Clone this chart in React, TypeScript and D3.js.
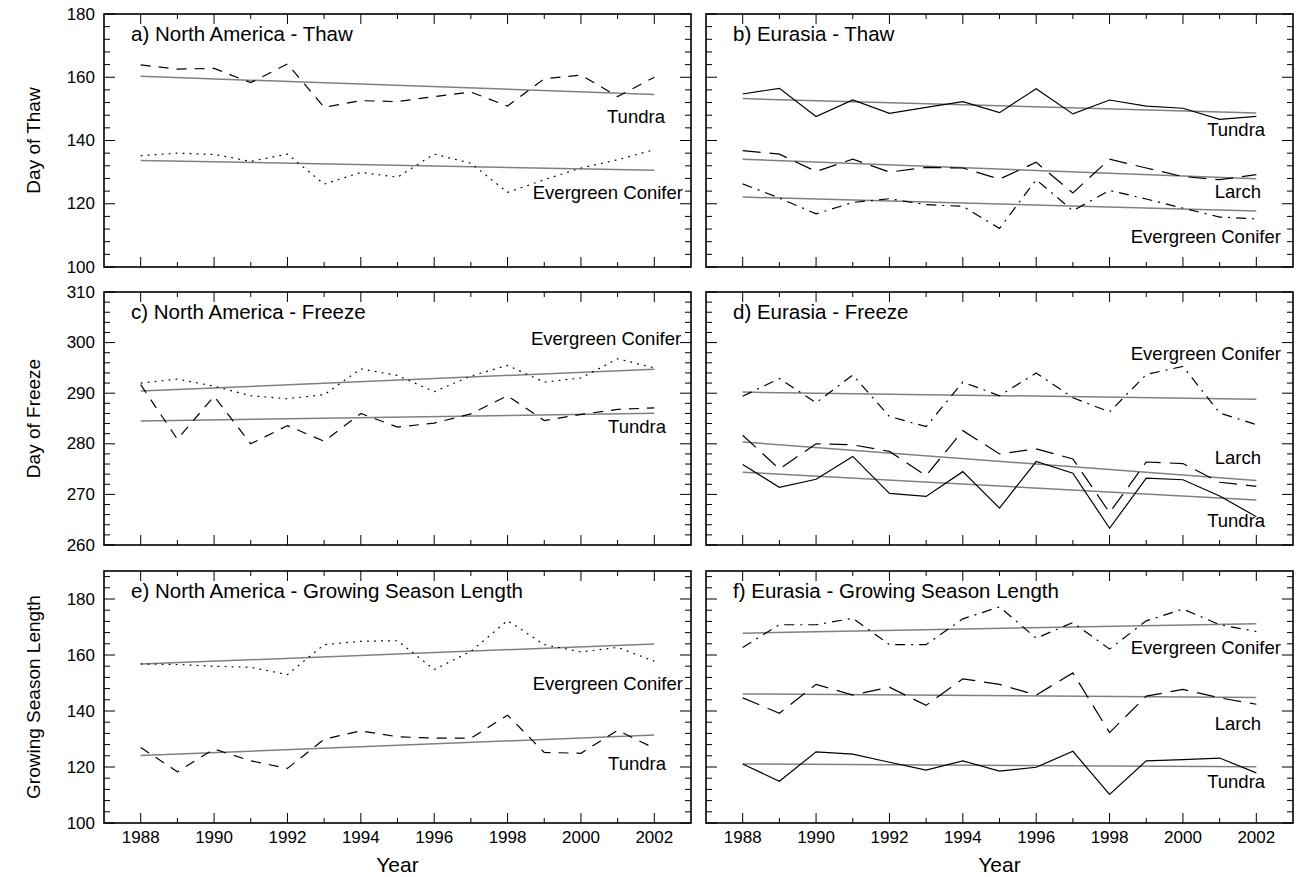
import * as d3 from "d3";

// years on the x axis
const years = [1988, 1989, 1990, 1991, 1992, 1993, 1994, 1995, 1996, 1997, 1998, 1999, 2000, 2001, 2002];
const yearTicks = [1988, 1990, 1992, 1994, 1996, 1998, 2000, 2002];

// tick labels per row
const thawTicks = [100, 120, 140, 160, 180];
const freezeTicks = [260, 270, 280, 290, 300, 310];
const gslTicks = [100, 120, 140, 160, 180];

// a) North America - Thaw
const naThawTundra = [163.9, 162.6, 162.8, 158.3, 164.2, 150.5, 152.6, 152.3, 153.9, 155.3, 150.9, 159.5, 160.7, 153.9, 160.0];
const naThawConifer = [135.2, 136.0, 135.6, 133.4, 135.7, 126.2, 129.9, 128.4, 135.7, 132.8, 123.6, 127.6, 131.3, 133.9, 137.1];

// b) Eurasia - Thaw
const euThawTundra = [154.7, 156.5, 147.6, 152.8, 148.6, 150.5, 152.3, 148.8, 156.4, 148.4, 152.8, 150.9, 150.2, 146.7, 147.6];
const euThawLarch = [136.8, 135.7, 130.2, 134.1, 130.0, 131.5, 131.3, 127.8, 133.1, 123.4, 134.1, 131.3, 128.6, 127.6, 129.2];
const euThawConifer = [126.3, 121.8, 116.8, 120.4, 121.6, 119.7, 119.2, 112.2, 127.6, 117.8, 124.2, 121.5, 118.6, 115.8, 115.2];

// c) North America - Freeze
const naFreezeConifer = [292.0, 292.8, 291.4, 289.5, 288.9, 289.7, 294.8, 293.5, 290.3, 293.4, 295.5, 292.2, 293.0, 296.8, 295.0];
const naFreezeTundra = [291.7, 280.9, 289.4, 280.0, 283.6, 280.5, 286.0, 283.3, 284.1, 285.9, 289.5, 284.6, 285.8, 286.8, 287.1];

// d) Eurasia - Freeze
const euFreezeConifer = [289.4, 292.9, 288.1, 293.6, 285.4, 283.4, 292.2, 289.5, 294.0, 289.1, 286.3, 293.7, 295.3, 286.1, 283.8];
const euFreezeLarch = [281.7, 275.0, 280.0, 279.8, 278.5, 273.7, 282.6, 278.0, 279.0, 277.0, 266.4, 276.4, 276.1, 272.4, 271.6];
const euFreezeTundra = [275.9, 271.4, 273.0, 277.5, 270.2, 269.6, 274.5, 267.3, 276.5, 274.2, 263.3, 273.2, 272.9, 269.7, 265.6];

// e) North America - Growing Season Length
const naGslConifer = [156.8, 156.6, 156.0, 155.6, 153.0, 163.7, 164.9, 165.1, 154.8, 161.3, 172.3, 163.7, 161.1, 162.7, 157.8];
const naGslTundra = [127.0, 118.3, 126.4, 122.2, 119.5, 129.9, 132.9, 130.8, 130.3, 130.3, 138.5, 125.2, 124.9, 133.1, 126.7];

// f) Eurasia - Growing Season Length
const euGslConifer = [162.7, 170.8, 170.8, 173.1, 163.7, 163.7, 172.9, 177.2, 166.0, 171.6, 162.1, 172.2, 176.4, 170.8, 168.4];
const euGslLarch = [144.7, 139.2, 149.5, 145.7, 148.5, 142.0, 151.5, 149.5, 145.7, 153.6, 132.3, 145.3, 147.7, 144.7, 142.4];
const euGslTundra = [121.1, 114.9, 125.4, 124.6, 121.7, 118.9, 122.2, 118.5, 119.9, 125.6, 110.2, 122.2, 122.6, 123.2, 117.9];

const FONT = "'Liberation Sans', Arial, Helvetica, sans-serif";

const styles: Record<string, string | undefined> = {
  solid: undefined,
  dashed: "10,8",
  long: "18,9",
  dotted: "1.8,5.2",
  dashdot: "10,6,2,6",
};

interface Series {
  name: string;
  values: number[];
  style: string;
  at: [number, number]; // label anchor (year, value), text ends here
}

interface Panel {
  title: string;
  col: number;
  row: number;
  series: Series[];
}

const cols = [
  { x0: 104, x1: 691 },
  { x0: 706, x1: 1293 },
];
const rows = [
  { y0: 14, y1: 267, domain: [100, 180], ticks: thawTicks, minor: 4, label: "Day of Thaw" },
  { y0: 292, y1: 545, domain: [260, 310], ticks: freezeTicks, minor: 2, label: "Day of Freeze" },
  { y0: 571, y1: 823, domain: [100, 190], ticks: gslTicks, minor: 4, label: "Growing Season Length" },
];

const panels: Panel[] = [
  {
    title: "a) North America - Thaw", col: 0, row: 0,
    series: [
      { name: "Tundra", values: naThawTundra, style: "dashed", at: [2002.29, 147.5] },
      { name: "Evergreen Conifer", values: naThawConifer, style: "dotted", at: [2002.78, 123.5] },
    ],
  },
  {
    title: "b) Eurasia - Thaw", col: 1, row: 0,
    series: [
      { name: "Tundra", values: euThawTundra, style: "solid", at: [2002.24, 143.4] },
      { name: "Larch", values: euThawLarch, style: "long", at: [2002.13, 123.8] },
      { name: "Evergreen Conifer", values: euThawConifer, style: "dashdot", at: [2002.67, 109.6] },
    ],
  },
  {
    title: "c) North America - Freeze", col: 0, row: 1,
    series: [
      { name: "Evergreen Conifer", values: naFreezeConifer, style: "dotted", at: [2002.73, 300.85] },
      { name: "Tundra", values: naFreezeTundra, style: "dashed", at: [2002.32, 283.5] },
    ],
  },
  {
    title: "d) Eurasia - Freeze", col: 1, row: 1,
    series: [
      { name: "Evergreen Conifer", values: euFreezeConifer, style: "dashdot", at: [2002.67, 297.75] },
      { name: "Larch", values: euFreezeLarch, style: "long", at: [2002.13, 277.3] },
      { name: "Tundra", values: euFreezeTundra, style: "solid", at: [2002.24, 264.8] },
    ],
  },
  {
    title: "e) North America - Growing Season Length", col: 0, row: 2,
    series: [
      { name: "Evergreen Conifer", values: naGslConifer, style: "dotted", at: [2002.78, 149.9] },
      { name: "Tundra", values: naGslTundra, style: "dashed", at: [2002.32, 121.1] },
    ],
  },
  {
    title: "f) Eurasia - Growing Season Length", col: 1, row: 2,
    series: [
      { name: "Evergreen Conifer", values: euGslConifer, style: "dashdot", at: [2002.67, 162.75] },
      { name: "Larch", values: euGslLarch, style: "long", at: [2002.13, 135.6] },
      { name: "Tundra", values: euGslTundra, style: "solid", at: [2002.24, 114.75] },
    ],
  },
];

// least squares fit, returns [a, b] for y = a + b * x
function fit(xs: number[], ys: number[]): [number, number] {
  const mx = d3.mean(xs)!;
  const my = d3.mean(ys)!;
  let num = 0;
  let den = 0;
  xs.forEach((x, i) => {
    num += (x - mx) * (ys[i] - my);
    den += (x - mx) * (x - mx);
  });
  const b = num / den;
  return [my - b * mx, b];
}

function PanelView({ p }: { p: Panel }) {
  const c = cols[p.col];
  const r = rows[p.row];
  const x = d3.scaleLinear().domain([1987, 2003]).range([c.x0, c.x1]);
  const y = d3.scaleLinear().domain(r.domain).range([r.y1, r.y0]);
  const line = d3
    .line<number>()
    .x((_, i) => x(years[i]))
    .y((d) => y(d));

  const minorY = d3.range(r.domain[0], r.domain[1] + 0.001, r.minor);
  const first = years[0];
  const last = years[years.length - 1];

  return (
    <g>
      {/* y ticks, both sides */}
      {minorY.map((v) => {
        const major = r.ticks.includes(v);
        const len = major ? 11 : 6;
        return (
          <g key={"y" + v} stroke="#000" strokeWidth={1}>
            <line x1={c.x0} x2={c.x0 + len} y1={y(v)} y2={y(v)} />
            <line x1={c.x1} x2={c.x1 - len} y1={y(v)} y2={y(v)} />
          </g>
        );
      })}
      {/* x ticks, top and bottom */}
      {years.map((yr) => {
        const len = yearTicks.includes(yr) ? 10 : 5;
        return (
          <g key={"x" + yr} stroke="#000" strokeWidth={1}>
            <line x1={x(yr)} x2={x(yr)} y1={r.y1} y2={r.y1 - len} />
            <line x1={x(yr)} x2={x(yr)} y1={r.y0} y2={r.y0 + len} />
          </g>
        );
      })}
      {/* y tick labels, left column only */}
      {p.col === 0 &&
        r.ticks.map((v) => (
          <text key={"yl" + v} x={c.x0 - 9} y={y(v)} textAnchor="end" dominantBaseline="central"
            fontSize={17} fontFamily={FONT}>
            {v}
          </text>
        ))}
      {/* x tick labels, bottom row only */}
      {p.row === 2 &&
        yearTicks.map((yr) => (
          <text key={"xl" + yr} x={x(yr)} y={r.y1 + 14} textAnchor="middle" dominantBaseline="central"
            fontSize={17} fontFamily={FONT}>
            {yr}
          </text>
        ))}
      {/* trend lines */}
      {p.series.map((s) => {
        const [a, b] = fit(years, s.values);
        return (
          <line key={"t" + s.name} x1={x(first)} x2={x(last)} y1={y(a + b * first)} y2={y(a + b * last)}
            stroke="#808080" strokeWidth={1.5} />
        );
      })}
      {/* series */}
      {p.series.map((s) => (
        <path key={"s" + s.name} d={line(s.values) ?? ""} fill="none" stroke="#000" strokeWidth={1.2}
          strokeDasharray={styles[s.style]} />
      ))}
      {/* series labels */}
      {p.series.map((s) => (
        <text key={"l" + s.name} x={x(s.at[0])} y={y(s.at[1])} textAnchor="end" dominantBaseline="central"
          fontSize={18.5} fontFamily={FONT}>
          {s.name}
        </text>
      ))}
      <text x={c.x0 + 27} y={r.y0 + 19} dominantBaseline="central" fontSize={20.5} fontFamily={FONT}>
        {p.title}
      </text>
      <rect x={c.x0} y={r.y0} width={c.x1 - c.x0} height={r.y1 - r.y0} fill="none" stroke="#000"
        strokeWidth={1.6} />
    </g>
  );
}

export default function App() {
  return (
    <svg width={1299} height={877} style={{ position: "absolute", left: 0, top: 0, background: "#fff" }}>
      <rect width={1299} height={877} fill="#fff" />
      {panels.map((p) => (
        <PanelView key={p.title} p={p} />
      ))}
      {rows.map((r) => (
        <text key={r.label} transform={`translate(33,${(r.y0 + r.y1) / 2}) rotate(-90)`} textAnchor="middle"
          dominantBaseline="central" fontSize={19} fontFamily={FONT}>
          {r.label}
        </text>
      ))}
      {cols.map((c) => (
        <text key={c.x0} x={(c.x0 + c.x1) / 2} y={864} textAnchor="middle" dominantBaseline="central"
          fontSize={21} fontFamily={FONT}>
          Year
        </text>
      ))}
    </svg>
  );
}
